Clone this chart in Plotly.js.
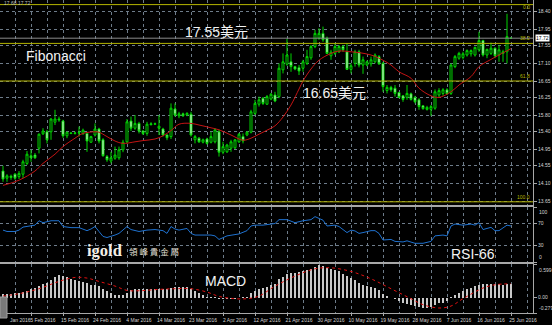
<!DOCTYPE html>
<html><head><meta charset="utf-8">
<script src="https://cdn.plot.ly/plotly-3.0.1.min.js"></script>
<style>html,body{margin:0;padding:0;background:#000;}#chart{width:552px;height:325px;}</style>
</head><body><div id="chart"></div>
<script>
// ---- daily OHLC (bar index 0..127) ----
const opens = [
14.40,14.22,14.27,14.32,14.26,14.32,14.59,14.78,14.80,14.97,
15.33,15.38,15.38,15.62,15.70,15.65,15.28,15.35,15.34,15.35,
15.34,15.34,15.12,15.30,15.45,15.18,14.76,14.65,14.72,14.73,
14.93,15.13,15.65,15.47,15.59,15.40,15.34,15.58,15.57,15.47,
15.45,15.30,15.26,15.95,15.78,15.83,15.80,15.82,15.18,15.22,
15.12,15.20,15.12,15.13,15.38,14.87,14.88,14.97,14.98,15.13,
15.26,15.30,15.37,15.84,16.07,16.22,16.07,16.20,16.30,16.26,
16.93,17.07,17.13,17.01,16.98,16.97,17.09,17.23,17.51,17.72,
17.84,17.72,17.28,17.34,17.38,17.51,17.38,16.94,17.09,17.38,
17.05,17.05,17.08,17.13,17.26,17.09,16.41,16.49,16.47,16.36,
16.28,16.24,16.33,16.24,16.18,16.03,15.94,15.94,15.97,16.30,
16.34,16.43,16.34,17.01,17.22,17.24,17.30,17.33,17.30,17.43,
17.66,17.30,17.34,17.47,17.30,17.34,17.38,17.72];
const highs = [
14.53,14.32,14.31,14.35,14.40,14.68,14.90,14.93,14.85,15.34,
15.47,15.43,15.72,15.93,15.76,15.68,15.38,15.37,15.38,15.51,
15.46,15.38,15.28,15.59,15.48,15.22,14.80,14.88,15.01,15.01,
15.18,15.70,15.76,15.80,15.63,15.42,15.63,15.62,15.61,15.80,
15.48,15.32,16.09,16.09,15.88,15.86,15.87,15.88,15.30,15.25,
15.21,15.23,15.38,15.47,15.43,15.13,15.08,15.18,15.20,15.35,
15.34,15.40,15.93,16.18,16.26,16.25,16.30,16.35,16.38,17.09,
17.34,17.70,17.34,17.03,17.05,17.18,17.43,17.55,17.93,17.97,
18.01,17.76,17.43,17.59,17.55,17.55,17.59,17.09,17.43,17.43,
17.26,17.16,17.26,17.34,17.30,17.13,16.55,16.53,16.55,16.38,
16.30,16.55,16.36,16.28,16.22,16.05,16.03,16.05,16.44,16.47,
16.47,16.47,17.09,17.30,17.38,17.38,17.44,17.44,17.51,17.88,
17.68,17.46,17.61,17.49,17.55,17.43,18.33,17.74];
const lows = [
14.13,14.13,14.18,14.18,14.20,14.22,14.55,14.63,14.70,14.84,
15.30,15.09,15.18,15.55,15.63,15.23,15.22,15.32,15.31,15.26,
15.30,14.88,15.10,15.26,15.09,14.76,14.63,14.59,14.68,14.68,
14.87,15.09,15.40,15.43,15.34,15.30,15.28,15.54,15.55,15.30,
15.26,15.17,15.20,15.76,15.72,15.75,15.77,15.26,15.09,15.10,
15.09,15.06,15.09,15.09,14.76,14.82,14.85,14.88,14.95,15.10,
15.09,15.27,15.34,15.80,16.01,16.05,16.05,16.17,16.12,16.22,
16.84,17.03,16.88,16.92,16.80,16.88,17.05,17.18,17.47,17.68,
17.63,17.32,17.18,17.30,17.35,17.38,16.93,16.84,17.01,16.99,
16.83,17.02,17.01,17.09,17.05,16.38,16.34,16.38,16.26,16.22,
16.13,16.18,16.16,16.09,15.93,15.93,15.91,15.78,15.93,16.24,
16.28,16.30,16.30,16.97,17.18,17.19,17.26,17.26,17.26,17.38,
17.26,17.22,17.30,17.22,17.13,17.13,17.09,17.70];
const closes = [
14.20,14.28,14.24,14.22,14.34,14.63,14.82,14.73,14.73,15.32,
15.40,15.18,15.70,15.70,15.68,15.28,15.37,15.34,15.35,15.36,
15.42,15.15,15.26,15.45,15.15,14.78,14.68,14.73,14.80,14.93,
15.12,15.63,15.47,15.59,15.40,15.34,15.57,15.56,15.58,15.52,
15.30,15.23,15.97,15.80,15.83,15.78,15.84,15.30,15.26,15.13,
15.18,15.09,15.26,15.43,14.87,15.01,15.05,15.13,15.18,15.32,
15.15,15.37,15.88,16.09,16.18,16.09,16.26,16.32,16.15,16.97,
17.13,17.30,17.01,16.95,16.90,17.13,17.26,17.51,17.84,17.84,
17.68,17.34,17.37,17.51,17.51,17.43,16.94,17.03,17.38,17.05,
17.18,17.13,17.18,17.30,17.08,16.51,16.49,16.43,16.34,16.24,
16.19,16.34,16.19,16.13,16.01,15.96,15.99,16.01,16.38,16.41,
16.43,16.33,17.05,17.26,17.34,17.33,17.41,17.41,17.49,17.66,
17.30,17.44,17.47,17.28,17.43,17.38,17.76,17.72];

// ---- moving average (red), read at selected bars ----
const maIdx = [0,4,8,10,13,15,18,20,23,24,26,28,30,33,35,38,40,42,44,47,49,52,54,57,60,62,64,66,68,70,72,74,75,77,79,82,84,87,89,92,94,97,99,102,104,107,109,112,114,117,119,122,124,127];
const maVal = [14.04,14.17,14.40,14.59,14.82,15.01,15.22,15.34,15.38,15.37,15.26,15.15,15.09,15.13,15.16,15.20,15.28,15.41,15.57,15.59,15.55,15.48,15.43,15.30,15.17,15.22,15.32,15.42,15.53,15.75,16.05,16.45,16.65,16.95,17.17,17.34,17.40,17.38,17.36,17.30,17.22,17.05,16.88,16.72,16.47,16.28,16.24,16.38,16.55,16.76,17.01,17.19,17.30,17.46];

// ---- RSI ----
const rsiIdx = [0,1,3,4,5,8,9,10,12,14,15,17,19,21,22,23,24,25,26,27,28,29,30,31,32,34,36,38,40,41,42,43,44,46,47,48,49,52,53,54,56,58,59,61,62,63,65,67,68,69,71,73,75,77,78,80,81,83,84,86,87,88,89,90,92,93,94,95,97,98,99,100,101,102,103,105,107,108,110,111,112,113,115,117,118,119,120,122,123,124,125,126,127];
const rsiVal = [58,55.5,55.5,58,63.5,67,75,71.5,75,75,64.5,62.5,62.5,57,60,64.5,55.5,46.5,44.5,46.5,49,52,58,64.5,59,55.5,58,59,57,52,64.5,60,58,61,52,49,49,49,47.5,41,47.5,49,51,57,65.5,67,67,69,70,77,77,71.5,75,77,82.5,76,65.5,67,64.5,53.5,58,56.5,52,53.5,57,57,52,40,41,37.5,37.5,36.5,38.5,36.5,34,34,37.5,47.5,49,47.5,65.5,69,67,69,67,71.5,59,63,57,57,62,67,65.5];

// ---- MACD ----
const macdHist = [
.061,.067,.073,.085,.091,.109,.127,.152,.176,.212,
.248,.273,.321,.370,.406,.394,.370,.345,.327,.309,
.285,.267,.236,.236,.212,.164,.115,.079,.055,.042,
.042,.091,.133,.152,.152,.152,.164,.164,.164,.164,
.164,.152,.176,.188,.188,.188,.188,.152,.115,.079,
.042,.018,.006,.006,-.018,-.030,-.030,-.030,-.018,-.006,
.006,.018,.079,.115,.152,.176,.200,.224,.248,.333,
.376,.436,.455,.455,.467,.479,.497,.515,.558,.588,
.576,.539,.515,.497,.479,.436,.394,.358,.315,.273,
.236,.212,.194,.176,.133,.073,.030,-.006,-.030,-.067,
-.091,-.109,-.127,-.152,-.170,-.188,-.188,-.176,-.127,-.103,
-.091,-.067,.006,.042,.079,.115,.152,.176,.212,.236,
.248,.248,.248,.248,.248,.236,.255,.255];
const sigIdx = [0,4,9,14,18,21,24,28,31,34,39,43,47,51,54,58,61,64,68,73,78,82,87,92,97,102,105,109,112,115,120,123,127];
const sigVal = [.030,.073,.164,.297,.370,.358,.297,.212,.133,.127,.152,.164,.164,.103,.024,-.018,-.018,.030,.210,.394,.527,.545,.479,.345,.164,-.018,-.127,-.188,-.152,-.018,.176,.236,.255];

// ---- levels & ticks ----
const fibLevels = [18.56, 17.59, 16.65, 13.63];
const fibLabels = ['0.0', '38.2', '61.8', '100.0'];
const priceTicks = [18.40,17.95,17.55,17.10,16.65,16.25,15.80,15.40,14.95,14.55,14.10,13.65];
const rsiTicks = [0,30,70,100];
const macdTicks = [-0.279, 0, 0.599];
const dateBars = [7,15,23,31,39,47,55,63,71,79,87,95,103,111,119,127];
const dateLabels = ['5 Feb 2016','15 Feb 2016','24 Feb 2016','4 Mar 2016','14 Mar 2016','23 Mar 2016','2 Apr 2016','12 Apr 2016','21 Apr 2016','30 Apr 2016','10 May 2016','19 May 2016','28 May 2016','7 Jun 2016','16 Jun 2016','25 Jun 2016'];

// ---- drawing ----
const idx = closes.map((_, i) => i);
const PW = 533, PH = 313;
const px = v => v / PW, py = v => 1 - v / PH;
const grid = '#6e7c8a', frame = '#a8a8a8', fib = '#b4b400', txt = '#d4d4d4';
const lastClose = closes[closes.length - 1];
const small = {family:'Liberation Sans, sans-serif', size:5, color:txt};

const traces = [
  {type:'candlestick', x:idx, open:opens, high:highs, low:lows, close:closes,
   xaxis:'x', yaxis:'y', whiskerwidth:0, hoverinfo:'skip',
   increasing:{line:{color:'#00d400', width:1}, fillcolor:'#000000'},
   decreasing:{line:{color:'#00d400', width:1}, fillcolor:'#ffffff'}},
  {type:'scatter', mode:'lines', x:maIdx, y:maVal, xaxis:'x', yaxis:'y',
   line:{color:'#c41414', width:1, shape:'spline'}, hoverinfo:'skip'},
  {type:'scatter', mode:'lines', x:rsiIdx, y:rsiVal, xaxis:'x2', yaxis:'y2',
   line:{color:'#1f72d0', width:1}, hoverinfo:'skip'},
  {type:'bar', x:idx, y:macdHist, xaxis:'x3', yaxis:'y3', width:0.28,
   marker:{color:'#c8c8c8', line:{width:0}}, hoverinfo:'skip'},
  {type:'scatter', mode:'lines', x:sigIdx, y:sigVal, xaxis:'x3', yaxis:'y3',
   line:{color:'#e01010', width:1, dash:'dot', shape:'spline'}, hoverinfo:'skip'}
];

const xBase = {
  range:[-0.75, 132.5], tickvals:dateBars, showticklabels:false, ticks:'',
  showgrid:true, gridcolor:grid, griddash:'dot', gridwidth:1,
  minor:{tick0:3, dtick:4, showgrid:true, gridcolor:grid, griddash:'dot', gridwidth:1},
  zeroline:false, showline:true, mirror:true, linecolor:frame, linewidth:1,
  rangeslider:{visible:false}, fixedrange:true
};
const yBase = {
  side:'right', ticks:'outside', ticklen:3, tickcolor:frame, zeroline:false,
  showline:true, mirror:true, linecolor:frame, linewidth:1,
  showgrid:true, gridcolor:grid, griddash:'dot', gridwidth:1,
  tickfont:small, fixedrange:true
};

const shapes = fibLevels.map(l => ({type:'line', xref:'paper', x0:0, x1:1, yref:'y', y0:l, y1:l,
  line:{color:fib, width:1}}));
shapes.push({type:'line', xref:'paper', x0:0, x1:1, yref:'y', y0:lastClose, y1:lastClose,
  line:{color:'#8a8a8a', width:1}});
shapes.push({type:'rect', xref:'paper', yref:'paper', x0:0, x1:px(7), y0:py(318), y1:py(297),
  fillcolor:'#7a7a7a', line:{color:'#a0a0a0', width:1}});

const big = {family:'Liberation Sans, Noto Sans CJK SC, sans-serif', size:14, color:'#f2f2f2'};
const annotations = [
  {text:'17.55美元', x:px(216), y:py(32.5)},
  {text:'Fibonacci', x:px(55.5), y:py(56)},
  {text:'16.65美元', x:px(334), y:py(93)},
  {text:'MACD', x:px(225), y:py(281)},
  {text:'RSI-66', x:px(473), y:py(254)}
].map(a => Object.assign({xref:'paper', yref:'paper', xanchor:'center', yanchor:'middle', showarrow:false, font:big}, a));

annotations.push({text:'<b>igold</b>', xref:'paper', yref:'paper', x:px(104.5), y:py(250.5),
  xanchor:'center', yanchor:'middle', showarrow:false,
  font:{family:'Liberation Serif, DejaVu Serif, serif', size:16.5, color:'#f4efe6'}});
annotations.push({text:'領 峰 貴 金 屬', xref:'paper', yref:'paper', x:px(153.5), y:py(251.5),
  xanchor:'center', yanchor:'middle', showarrow:false,
  font:{family:'Noto Sans CJK TC, sans-serif', size:8.5, color:'#e6e1d8'}});
annotations.push({text:'17.68 17.72', xref:'paper', yref:'paper', x:px(2), y:py(3), xanchor:'left', yanchor:'middle',
  showarrow:false, font:{family:'Liberation Sans, sans-serif', size:5, color:'#bdbdbd'}});
annotations.push({text:'Jan 2016', xref:'paper', yref:'paper', x:px(8), y:py(319.5), xanchor:'left', yanchor:'middle',
  showarrow:false, font:small});
fibLevels.forEach((l, i) => annotations.push({text:fibLabels[i], xref:'paper', x:1, xanchor:'right', xshift:-1,
  yref:'y', y:l, yanchor:(i === 0 ? 'top' : 'bottom'), yshift:(i === 0 ? 3 : 0), showarrow:false,
  font:{family:'Liberation Sans, sans-serif', size:5, color:fib}}));
annotations.push({text:lastClose.toFixed(2), xref:'paper', x:1, xanchor:'left', xshift:2, yref:'y', y:lastClose,
  yanchor:'middle', showarrow:false, bgcolor:'#ffffff', borderpad:0,
  font:{family:'Liberation Sans, sans-serif', size:5, color:'#000000'}});
// edge labels of the sub-windows, drawn inside the window like the terminal does
[['y2', rsiTicks[3], String(rsiTicks[3]), 'top'], ['y2', rsiTicks[0], String(rsiTicks[0]), 'bottom'],
 ['y3', macdTicks[2], macdTicks[2].toFixed(3), 'top'], ['y3', macdTicks[0], macdTicks[0].toFixed(3), 'bottom']]
 .forEach(e => annotations.push({text:e[2], xref:'paper', x:1, xanchor:'left', xshift:4, yref:e[0], y:e[1],
   yanchor:e[3], showarrow:false, font:small}));

const layout = {
  width:552, height:325, margin:{l:0, r:19, t:0, b:12},
  paper_bgcolor:'#000000', plot_bgcolor:'#000000', showlegend:false,
  font:{family:'Liberation Sans, Arial, sans-serif', color:txt, size:5},
  xaxis: Object.assign({}, xBase, {anchor:'y', domain:[0,1]}),
  xaxis2: Object.assign({}, xBase, {anchor:'y2', domain:[0,1], matches:'x'}),
  xaxis3: Object.assign({}, xBase, {anchor:'y3', domain:[0,1], matches:'x',
    showticklabels:true, ticktext:dateLabels, ticklabelshift:12, ticks:'outside', ticklen:2, tickcolor:frame,
    tickfont:small}),
  yaxis: Object.assign({}, yBase, {anchor:'x', domain:[1-205/PH, 1], range:[13.55, 18.675],
    tickvals:priceTicks, ticktext:priceTicks.map(v => v.toFixed(2))}),
  yaxis2: Object.assign({}, yBase, {anchor:'x2', domain:[51/PH, 106/PH], range:[0, 100],
    tickvals:rsiTicks, ticktext:rsiTicks.map((v, i) => (i === 0 || i === rsiTicks.length - 1) ? '' : String(v))}),
  yaxis3: Object.assign({}, yBase, {anchor:'x3', domain:[0, 49/PH], range:[-0.279, 0.615],
    tickvals:macdTicks, ticktext:macdTicks.map(v => v === 0 ? '0.00' : ''), showgrid:false}),
  bargap:0, shapes:shapes, annotations:annotations
};

Plotly.newPlot('chart', traces, layout, {staticPlot:true, displayModeBar:false});
</script>
</body></html>
